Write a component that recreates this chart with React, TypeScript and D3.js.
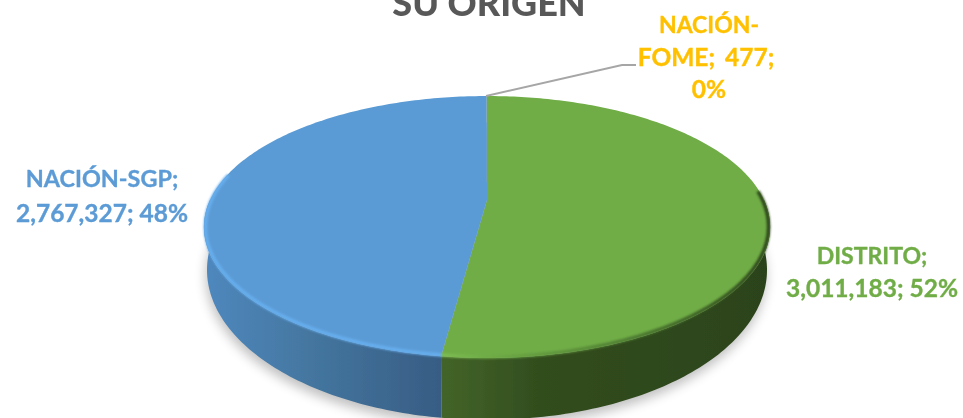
import React from "react";
import * as d3 from "d3";

const sliceNames = ["DISTRITO", "NACIÓN-SGP", "NACIÓN-FOME"];
const values = [3011183, 2767327, 477];
const valueLabels = ["3,011,183", "2,767,327", "477"];
const percentLabels = ["52%", "48%", "0%"];
const topColors = ["#70AD47", "#5B9BD5", "#FFC000"];
const labelColors = ["#70AD47", "#5B9BD5", "#FFC000"];

const W = 963, H = 418;
const font = "Lato, Carlito, 'Open Sans', sans-serif";

type Proj = { cx: number; y0: number; A: number; B: number; k: number };
const topP: Proj = { cx: 487, y0: 200, A: 277, B: 125.4, k: 0.206 };
const botP: Proj = { cx: 487, y0: 239, A: 274, B: 143.6, k: 0.206 };

// Perspective projection of a unit-circle angle (0 = top, clockwise)
const project = (p: Proj, a: number): [number, number] => {
  const u = Math.sin(a), v = -Math.cos(a), w = 1 - p.k * v;
  return [p.cx + (p.A * u) / w, p.y0 + (p.B * v) / w];
};
const sample = (p: Proj, a0: number, a1: number) => {
  const n = Math.max(2, Math.ceil(Math.abs(a1 - a0) * 60));
  return d3.range(n + 1).map((i) => project(p, a0 + ((a1 - a0) * i) / n));
};
const line = d3.line();
const arcs = d3.pie<number>().sort(null)(values);
const rimP: Proj = { ...topP, A: topP.A - 1.5, B: topP.B - 1 };
const deg = Math.PI / 180;

export default function App() {
  const front = (a: number) => Math.max(a, Math.PI / 2);
  const frontEnd = (a: number) => Math.min(a, (3 * Math.PI) / 2);
  const bottomFull = line(sample(botP, 0, 2 * Math.PI)) + "Z";
  return (
    <svg width={W} height={H} viewBox={`0 0 ${W} ${H}`} style={{ position: "absolute", left: 0, top: 0, background: "#fff" }}>
      <defs>
        <filter id="sh" x="-10%" y="-10%" width="120%" height="130%"><feGaussianBlur stdDeviation="6" /></filter>
        <filter id="rim" x="-5%" y="-5%" width="110%" height="110%"><feGaussianBlur stdDeviation="1.2" /></filter>
        <filter id="soft" x="-5%" y="-5%" width="110%" height="110%"><feGaussianBlur stdDeviation="0.5" /></filter>
        <filter id="txt" x="-5%" y="-5%" width="110%" height="110%"><feGaussianBlur stdDeviation="0.35" /></filter>
        <linearGradient id="sideBlue" gradientUnits="userSpaceOnUse" x1="204" x2="443" y1="0" y2="0">
          <stop offset="0" stopColor="#4f88be" />
          <stop offset="0.45" stopColor="#44769f" />
          <stop offset="1" stopColor="#375c83" />
        </linearGradient>
        <linearGradient id="sideGreen" gradientUnits="userSpaceOnUse" x1="443" x2="770" y1="0" y2="0">
          <stop offset="0" stopColor="#436429" />
          <stop offset="0.3" stopColor="#314d1e" />
          <stop offset="1" stopColor="#2c431a" />
        </linearGradient>
        <linearGradient id="rimGreen" gradientUnits="userSpaceOnUse" x1="443" x2="772" y1="0" y2="0">
          <stop offset="0" stopColor="#7dbd53" />
          <stop offset="0.12" stopColor="#70AD47" />
          <stop offset="0.55" stopColor="#4f7e32" />
          <stop offset="1" stopColor="#2c431a" />
        </linearGradient>
      </defs>

      <text x={489} y={16} textAnchor="middle" fontFamily={font} fontWeight={900} fontSize={36} fill="#595959" filter="url(#txt)">SU ORIGEN</text>

      <path d={bottomFull} transform="translate(-1,6)" fill="#000" opacity={0.25} filter="url(#sh)" />

      <g filter="url(#soft)">
        {arcs.map((d, i) => {
          const a0 = front(d.startAngle), a1 = frontEnd(d.endAngle);
          if (a1 <= a0) return null;
          const upper = sample(topP, a0, a1);
          const lower = sample(botP, a1, a0);
          return <path key={i} d={line([...upper, ...lower]) + "Z"} fill={i === 0 ? "url(#sideGreen)" : "url(#sideBlue)"} />;
        })}
      </g>

      {arcs.map((d, i) => (
        <path key={i} d={line([[topP.cx, topP.y0], ...sample(topP, d.startAngle, d.endAngle)]) + "Z"} fill={topColors[i]} />
      ))}

      <g filter="url(#rim)" fill="none" strokeWidth={3.5}>
        <path d={line(sample(rimP, 86 * deg, arcs[0].endAngle)) ?? ""} stroke="url(#rimGreen)" />
        <path d={line(sample(rimP, arcs[1].startAngle, 282 * deg)) ?? ""} stroke="#66aeee" />
      </g>

      <polyline points="486,96 622,65 636,65" fill="none" stroke="#A6A6A6" strokeWidth={1.8} />

      <g fontFamily={font} fontWeight={700} textAnchor="middle" filter="url(#txt)" strokeWidth={0.35}>
        <text fill={labelColors[2]} stroke={labelColors[2]}>
          <tspan x={709} y={33} fontSize={23}>{sliceNames[2].split("-")[0]}-</tspan>
          <tspan x={706} y={66} fontSize={24.5} wordSpacing={4}>{sliceNames[2].split("-")[1]}; {valueLabels[2]};</tspan>
          <tspan x={709} y={98} fontSize={24.5}>{percentLabels[2]}</tspan>
        </text>
        <text fill={labelColors[1]} stroke={labelColors[1]}>
          <tspan x={102} y={187} fontSize={23.4}>{sliceNames[1]};</tspan>
          <tspan x={102} y={222} fontSize={24.5}>{valueLabels[1]}; {percentLabels[1]}</tspan>
        </text>
        <text fill={labelColors[0]} stroke={labelColors[0]}>
          <tspan x={872} y={264} fontSize={23}>{sliceNames[0]};</tspan>
          <tspan x={872} y={297} fontSize={24.5}>{valueLabels[0]}; {percentLabels[0]}</tspan>
        </text>
      </g>
    </svg>
  );
}
